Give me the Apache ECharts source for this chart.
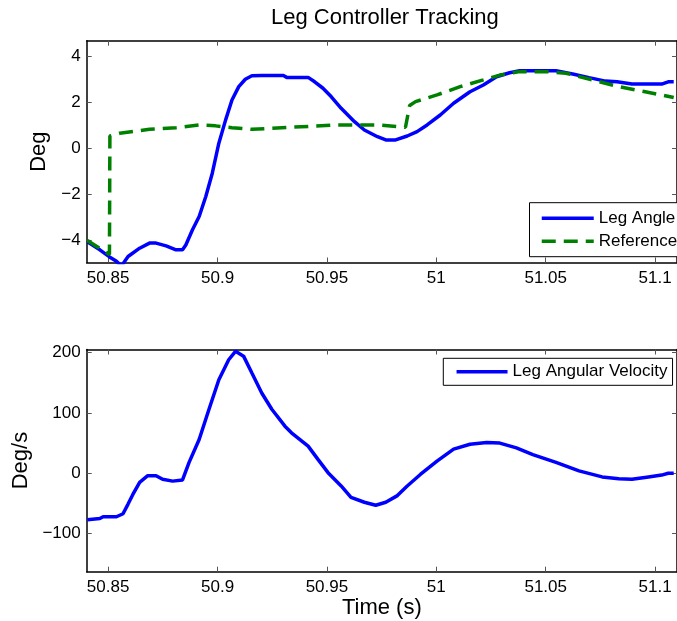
<!DOCTYPE html>
<html>
<head>
<meta charset="utf-8">
<script src="https://cdn.jsdelivr.net/npm/echarts@6/dist/echarts.min.js"></script>
<style>
  html, body { margin: 0; padding: 0; background: #fff; }
  #chart { width: 677px; height: 621px; }
</style>
</head>
<body>
<div id="chart"></div>
<script>
// Leg angle (deg) against time (s)
var angleTime = [50.8405, 50.8462, 50.8508, 50.8538, 50.8561, 50.8591, 50.8644, 50.8689, 50.8719, 50.8765,
  50.8810, 50.8840, 50.8855, 50.8885, 50.8916, 50.8946, 50.8976, 50.9006, 50.9037, 50.9066,
  50.9097, 50.9127, 50.9157, 50.9202, 50.9301, 50.9316, 50.9414, 50.9444, 50.9482, 50.9520,
  50.9565, 50.9626, 50.9671, 50.9731, 50.9769, 50.9814, 50.9867, 50.9912, 50.9958, 51.0018,
  51.0079, 51.0154, 51.0215, 51.0275, 51.0335, 51.0381, 51.0547, 51.0623, 51.0698, 51.0773,
  51.0826, 51.0894, 51.1030, 51.1060, 51.1085];
var angleDeg = [-4.05, -4.40, -4.72, -4.90, -5.10, -4.69, -4.33, -4.11, -4.11, -4.23,
  -4.40, -4.40, -4.19, -3.54, -2.96, -2.10, -1.08, 0.22, 1.23, 2.09,
  2.67, 2.99, 3.14, 3.15, 3.15, 3.07, 3.07, 2.88, 2.60, 2.23,
  1.73, 1.15, 0.79, 0.50, 0.36, 0.36, 0.53, 0.72, 1.01, 1.44,
  1.95, 2.45, 2.74, 3.10, 3.27, 3.36, 3.36, 3.22, 3.06, 2.91,
  2.88, 2.78, 2.78, 2.88, 2.88];

// Reference angle (deg) against time (s)
var refTime = [50.8405, 50.8506, 50.8508, 50.8553, 50.8689, 50.8810, 50.8916, 50.8991, 50.9066, 50.9157,
  50.9293, 50.9550, 50.9731, 50.9859, 50.9878, 50.9905, 51.0003, 51.0109, 51.0215, 51.0290,
  51.0381, 51.0502, 51.0592, 51.0713, 51.0834, 51.0955, 51.1085];
var refDeg = [-4.00, -4.60, 0.53, 0.65, 0.82, 0.89, 1.01, 0.97, 0.89, 0.82,
  0.89, 1.01, 1.01, 0.91, 1.85, 2.02, 2.31, 2.67, 2.96, 3.17,
  3.32, 3.32, 3.25, 2.96, 2.67, 2.45, 2.20];

// Leg angular velocity (deg/s) against time (s)
var velTime = [50.8405, 50.8462, 50.8477, 50.8538, 50.8568, 50.8591, 50.8613, 50.8644, 50.8681, 50.8719,
  50.8749, 50.8795, 50.8840, 50.8870, 50.8916, 50.8961, 50.9006, 50.9051, 50.9082, 50.9119,
  50.9157, 50.9202, 50.9248, 50.9308, 50.9338, 50.9414, 50.9459, 50.9505, 50.9565, 50.9610,
  50.9671, 50.9723, 50.9769, 50.9822, 50.9867, 50.9927, 51.0003, 51.0079, 51.0154, 51.0230,
  51.0290, 51.0366, 51.0441, 51.0547, 51.0652, 51.0758, 51.0834, 51.0894, 51.0970, 51.1030,
  51.1060, 51.1085];
var velDeg = [-77, -75, -72, -72, -67, -51, -35, -15, -4, -4,
  -10, -13, -11, 18, 56, 106, 155, 188, 202, 194,
  166, 133, 106, 78, 67, 45, 23, 1, -21, -40,
  -48, -53, -48, -37, -21, -2, 20, 40, 48, 51,
  50, 42, 31, 18, 4, -6, -9, -10, -6, -3,
  0, 0];

// Tick positions
var timeTicks = [50.85, 50.9, 50.95, 51, 51.05, 51.1];
var angleTicks = [-4, -2, 0, 2, 4];
var velTicks = [-100, 0, 100, 200];

var FONT = 'Liberation Sans, Arial, Helvetica, sans-serif';

function pairs(xs, ys) {
  return xs.map(function (x, i) { return [x, ys[i]]; });
}
function fmtNum(v) {
  var r = Math.round(v * 100) / 100;
  return r < 0 ? '\u2212' + Math.abs(r) : String(r);
}

function xAxis(grid, pos, labels, name) {
  return {
    type: 'value', gridIndex: grid, position: pos,
    min: 50.8402, max: 51.11,
    axisLine: { show: true, onZero: false, lineStyle: { color: '#000', width: 1.5 } },
    axisTick: { show: true, inside: true, length: 5, customValues: timeTicks,
      lineStyle: { color: '#555', width: 1 } },
    axisLabel: { show: labels, customValues: timeTicks, formatter: fmtNum, margin: 7,
      color: '#000', fontSize: 17, fontFamily: FONT },
    splitLine: { show: false },
    name: name || '', nameLocation: 'middle', nameGap: 22,
    nameTextStyle: { color: '#000', fontSize: 22, fontFamily: FONT }
  };
}
function yAxis(grid, pos, labels, min, max, ticks, name, gap) {
  return {
    type: 'value', gridIndex: grid, position: pos,
    min: min, max: max,
    axisLine: { show: true, onZero: false, lineStyle: { color: '#000', width: 1.5 } },
    axisTick: { show: true, inside: true, length: 5, customValues: ticks,
      lineStyle: { color: '#555', width: 1 } },
    axisLabel: { show: labels, customValues: ticks, formatter: fmtNum, margin: 6,
      color: '#000', fontSize: 17, fontFamily: FONT },
    splitLine: { show: false },
    name: name || '', nameLocation: 'middle', nameGap: gap || 30,
    nameTextStyle: { color: '#000', fontSize: 22, fontFamily: FONT }
  };
}

var chart = echarts.init(document.getElementById('chart'), null, { renderer: 'canvas' });
chart.setOption({
  backgroundColor: '#fff',
  animation: false,
  title: {
    text: 'Leg Controller Tracking',
    left: 266, top: 2,
    textStyle: { color: '#000', fontSize: 22, fontWeight: 'normal', fontFamily: FONT }
  },
  grid: [
    { left: 86.7, width: 595.4, top: 40.7, height: 221.8 },
    { left: 86.7, width: 595.4, top: 349.5, height: 222.2 }
  ],
  xAxis: [
    xAxis(0, 'bottom', true),
    xAxis(0, 'top', false),
    xAxis(1, 'bottom', true, 'Time (s)'),
    xAxis(1, 'top', false)
  ],
  yAxis: [
    yAxis(0, 'left', true, -4.95, 4.66, angleTicks, 'Deg', 34),
    yAxis(0, 'right', false, -4.95, 4.66, angleTicks),
    yAxis(1, 'left', true, -163, 205, velTicks, 'Deg/s', 54),
    yAxis(1, 'right', false, -163, 205, velTicks)
  ],
  legend: [
    {
      data: ['Leg Angle', 'Reference'], orient: 'vertical',
      left: 529.5, top: 202.7, padding: [7, 16, 7, 10.5],
      itemWidth: 52, itemHeight: 14, itemGap: 6,
      itemStyle: { opacity: 0 },
      lineStyle: { width: 3.5 },
      borderColor: '#000', borderWidth: 1, backgroundColor: '#fff',
      textStyle: { color: '#000', fontSize: 17, fontFamily: FONT }
    },
    {
      data: ['Leg Angular Velocity'], orient: 'horizontal',
      left: 443.3, top: 358.3, padding: [5, 5, 5, 11.5],
      itemWidth: 51, itemHeight: 14,
      itemStyle: { opacity: 0 },
      lineStyle: { width: 3.5 },
      borderColor: '#000', borderWidth: 1, backgroundColor: '#fff',
      textStyle: { color: '#000', fontSize: 17, fontFamily: FONT }
    }
  ],
  series: [
    {
      name: 'Leg Angle', type: 'line', xAxisIndex: 0, yAxisIndex: 0,
      data: pairs(angleTime, angleDeg), symbol: 'none', clip: true,
      lineStyle: { color: '#0000ff', width: 3.5 }, itemStyle: { color: '#0000ff' }
    },
    {
      name: 'Reference', type: 'line', xAxisIndex: 0, yAxisIndex: 0,
      data: pairs(refTime, refDeg), symbol: 'none', clip: true,
      lineStyle: { color: '#008000', width: 3.5, type: [14, 8] }, itemStyle: { color: '#008000' }
    },
    {
      name: 'Leg Angular Velocity', type: 'line', xAxisIndex: 2, yAxisIndex: 2,
      data: pairs(velTime, velDeg), symbol: 'none', clip: true,
      lineStyle: { color: '#0000ff', width: 3.5 }, itemStyle: { color: '#0000ff' }
    }
  ]
});
</script>
</body>
</html>
